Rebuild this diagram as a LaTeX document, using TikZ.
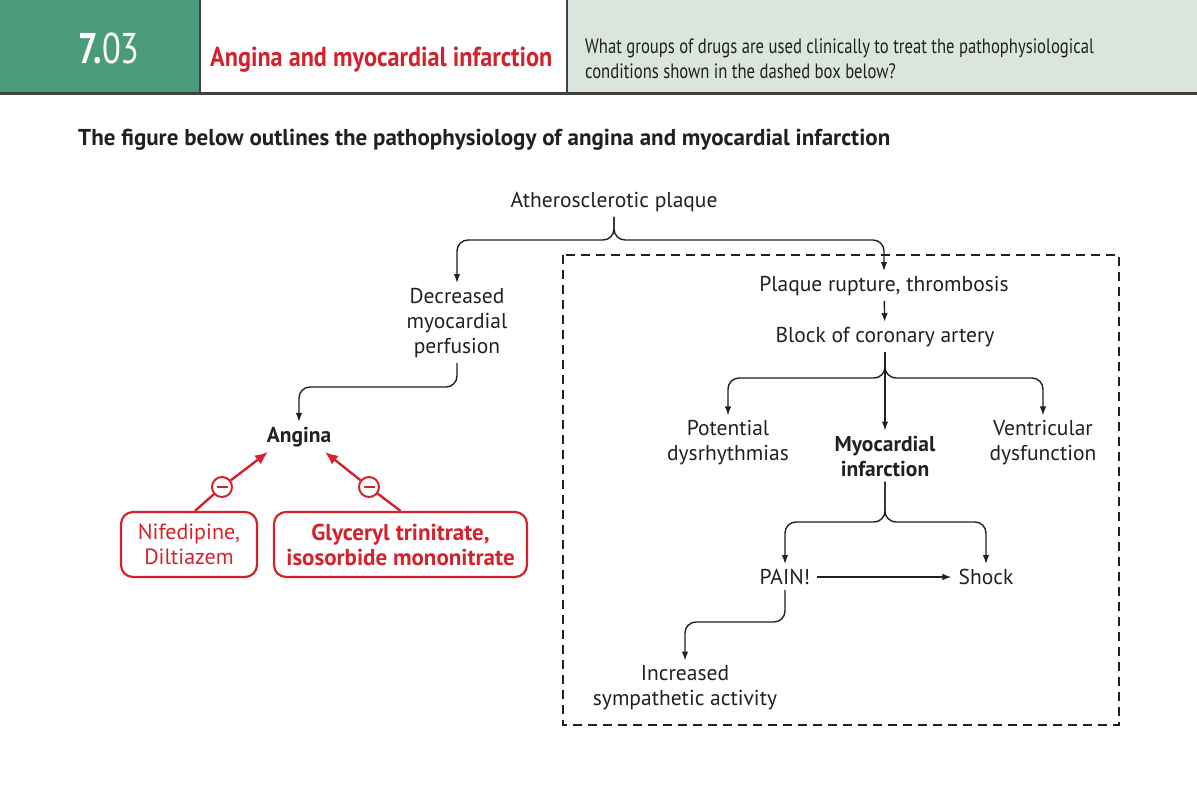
\documentclass[tikz,border=0pt]{standalone}
\usepackage{fontspec}
\setmainfont{PT Sans}
\newfontfamily\condfont[FakeStretch=0.8]{PT Sans}
\newfontfamily\titlefont[FakeStretch=0.88]{PT Sans}
\usetikzlibrary{arrows.meta,calc}
\definecolor{hgreen}{HTML}{4A9A7C}
\definecolor{hlight}{HTML}{DAE6DD}
\definecolor{hred}{HTML}{D4222D}
\definecolor{ink}{HTML}{231F20}
\begin{document}
\begin{tikzpicture}[x=1pt,y=-1pt,
  txt/.style={font=\fontsize{21.5}{25}\selectfont,align=center,text=ink,inner sep=5pt},
  btxt/.style={txt,font=\fontsize{21.5}{25}\selectfont\bfseries},
  arr/.style={draw=ink,line width=1.4pt,-{Latex[length=9pt,width=6.5pt]}},
  brace/.style={arr,rounded corners=11pt},
  redbox/.style={draw=hred,line width=2.2pt,rounded corners=12pt,text=hred,align=center,
     font=\fontsize{22}{25}\selectfont,minimum height=65pt,inner sep=0pt},
  minus/.style={circle,draw=hred,fill=white,line width=2pt,minimum size=20pt,inner sep=0pt},
  redline/.style={draw=hred,line width=2.4pt},
  redarr/.style={redline,-{Latex[length=13pt,width=11pt]}}
]
\useasboundingbox (0,0) rectangle (1197,804);
% header
\fill[hgreen] (0,0) rectangle (200,93);
\fill[hlight] (567,0) rectangle (1197,93);
\draw[ink!85,line width=2.5pt] (200,0) -- (200,93);
\draw[ink!85,line width=2.5pt] (567,0) -- (567,93);
\draw[ink!85,line width=3pt] (0,93) -- (1197,93);
\node[anchor=base west,inner sep=0pt,text=white,font=\fontsize{43}{43}\selectfont\condfont] (num) at (78,63) {\textbf{7.}03};
\node[anchor=base west,inner sep=0pt,text=hred,font=\fontsize{27.5}{27.5}\selectfont\titlefont\bfseries] (ttl) at (210,66) {Angina and myocardial infarction};
\node[anchor=base west,inner sep=0pt,text=ink,align=left,font=\fontsize{20.8}{25}\selectfont\condfont] (q) at (585,78) {What groups of drugs are used clinically to treat the pathophysiological\\conditions shown in the dashed box below?};
\node[anchor=base west,inner sep=0pt,text=ink,font=\fontsize{23}{26}\selectfont\bfseries] (hd) at (78,145) {The figure below outlines the pathophysiology of angina and myocardial infarction};
% dashed box
\draw[ink,line width=1.4pt,dash pattern=on 9pt off 6pt] (563,255) rectangle (1119,725);
% nodes
\node[txt] (ath) at (614,202) {Atherosclerotic plaque};
\node[txt] (dec) at (457,323) {Decreased\\myocardial\\perfusion};
\node[btxt] (ang) at (299,437) {Angina};
\node[redbox,minimum width=136pt] (nif) at (189,544.5) {Nifedipine,\\Diltiazem};
\node[redbox,minimum width=253pt,font=\fontsize{23}{25}\selectfont\bfseries] (gly) at (400.5,544.5) {Glyceryl trinitrate,\\isosorbide mononitrate};
\node[minus] (m1) at (222,487) {};
\node[minus] (m2) at (369,487) {};
\node[txt] (plq) at (884,286) {Plaque rupture, thrombosis};
\node[txt] (blk) at (885,337) {Block of coronary artery};
\node[txt] (pot) at (728,443) {Potential\\dysrhythmias};
\node[btxt] (mi) at (885,456) {Myocardial\\infarction};
\node[txt] (ven) at (1043,443) {Ventricular\\dysfunction};
\node[txt] (pain) at (785,577) {PAIN!};
\node[txt] (shock) at (986,577) {Shock};
\node[txt] (inc) at (685,688) {Increased\\sympathetic activity};
\coordinate (c1) at (614,240);
\coordinate (c2) at (457,387);
\coordinate (c3) at (885,378);
\coordinate (c4) at (885,522);
\coordinate (c5) at (785,622);
\coordinate (a1) at (268,452);
\coordinate (a2) at (325,452);
% connectors
\draw[brace] (ath.south) -- (c1) -| (dec.north);
\draw[brace] (ath.south) -- (c1) -| (plq.north);
\draw[brace] (dec.south) -- (c2) -| (ang.north);
\draw[arr] (plq) -- (blk);
\draw[brace] (blk.south) -- (c3) -| (pot.north);
\draw[brace] (blk.south) -- (c3) -| (ven.north);
\draw[arr] (blk.south) -- (mi.north);
\draw[brace] (mi.south) -- (c4) -| (pain.north);
\draw[brace] (mi.south) -- (c4) -| (shock.north);
\draw[arr,shorten <=2pt,shorten >=2pt] (pain) -- (shock);
\draw[brace] (pain.south) -- (c5) -| (inc.north);
% red inhibition arrows
\draw[redline] ($(nif.north)+(6,0)$) -- (m1);
\draw[redarr] (m1) -- (a1);
\draw[redline] (gly.north) -- (m2);
\draw[redarr] (m2) -- (a2);
\draw[hred,line width=1.8pt] ($(m1)+(-5.5,0)$) -- ($(m1)+(5.5,0)$);
\draw[hred,line width=1.8pt] ($(m2)+(-5.5,0)$) -- ($(m2)+(5.5,0)$);
\end{tikzpicture}
\end{document}
